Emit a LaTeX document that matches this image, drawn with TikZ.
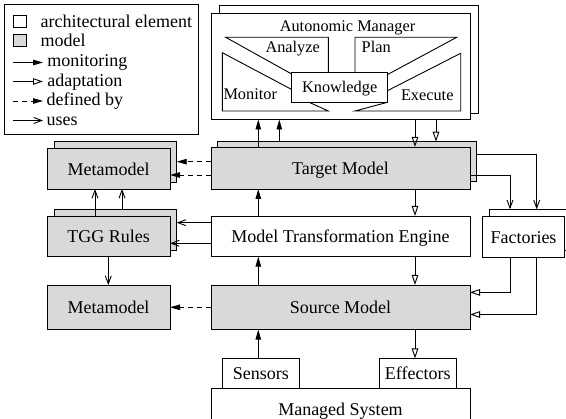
\documentclass[tikz,border=0pt]{standalone}
\usepackage{fontspec}
\setmainfont{Liberation Serif}
\usetikzlibrary{arrows.meta}
\definecolor{modelfill}{RGB}{217,217,217}
\begin{document}
\begin{tikzpicture}[x=1pt,y=-1pt,
  line width=0.9pt,
  every node/.style={inner sep=0pt, outer sep=0pt},
  bigfont/.style={font=\fontsize{18}{20}\selectfont},
  amfont/.style={font=\fontsize{16.3}{18}\selectfont},
  elem/.style={draw, fill=white, rectangle, anchor=north west, bigfont,
    text height=13pt, text depth=0pt},
  modelbox/.style={elem, fill=modelfill},
  sz/.style 2 args={minimum width=#1, minimum height=#2},
  mon/.style={-{Triangle[length=10pt,width=5.5pt]}},
  adapt/.style={-{Triangle[open,length=10pt,width=6.5pt]}},
  uses/.style={-{Straight Barb[length=8pt,width=6pt]}},
  defby/.style={mon, dash pattern=on 5pt off 4pt},
]
\useasboundingbox (0,0) rectangle (566,419);
\clip (0,0) rectangle (566,419);

% ---------------- legend ----------------
\node[draw, anchor=north west, sz={194pt}{130pt}] (legend) at (4,4) {};
\node[draw, fill=white, anchor=north west, sz={13.4pt}{12.3pt}] (keyelem) at (13.3,15) {};
\node[draw, fill=modelfill, anchor=north west, sz={13.4pt}{12pt}] (keymodel) at (13.3,34.7) {};
\node[bigfont, anchor=base west] (keyelemtxt) at (40.7,27.5) {architectural element};
\node[bigfont, anchor=base west] (keymodeltxt) at (40.7,47) {model};
\node[bigfont, anchor=base west] (keymontxt) at (47.3,66.7) {monitoring};
\node[bigfont, anchor=base west] (keyadapttxt) at (47.3,86.3) {adaptation};
\node[bigfont, anchor=base west] (keydeftxt) at (46.7,106) {defined by};
\node[bigfont, anchor=base west] (keyusestxt) at (46.7,126) {uses};
\coordinate (kmA) at (13.3,62.5);  \coordinate (kmB) at (43,62.5);
\coordinate (kaA) at (13.3,81.5);  \coordinate (kaB) at (43,81.5);
\coordinate (kdA) at (13.3,101);   \coordinate (kdB) at (43,101);
\coordinate (kuA) at (13.3,120.5); \coordinate (kuB) at (43,120.5);
\draw[mon] (kmA) -- (kmB);
\draw[adapt] (kaA) -- (kaB);
\draw[defby] (kdA) -- (kdB);
\draw[uses] (kuA) -- (kuB);

% ---------------- autonomic manager ----------------
\node[elem, sz={259pt}{108pt}] (amb) at (219,5) {};
\node[elem, sz={259pt}{106.5pt}] (am) at (211,13) {};
\node[amfont, anchor=base] (amtitle) at (347.5,32) {Autonomic Manager};
% MAPE segments around the knowledge box
\draw[fill=white] (225.7,37.3) -- (328.3,37.3) -- (328.3,77) -- (297,77) -- cycle;
\draw[fill=white] (355,37.3) -- (456.7,37.3) -- (383,77) -- (355,77) -- cycle;
\draw[fill=white] (222.3,52.7) -- (300,93.9) -- (310,102.7) -- (328.3,111)
  -- (222.3,111) -- cycle;
\draw[fill=white] (460.7,53.3) -- (380,94.5) -- (386,102.7) -- (355,111)
  -- (460.7,111) -- cycle;
\node[draw, fill=white, anchor=north west, sz={96pt}{30pt}, amfont,
  text height=10pt, text depth=0pt] (know) at (291.7,72.7) {Knowledge};
\node[amfont, anchor=base west] (analyze) at (265.5,53) {Analyze};
\node[amfont, anchor=base west] (plan) at (361.7,53) {Plan};
\node[amfont, anchor=base west] (monitor) at (223.5,100) {Monitor};
\node[amfont, anchor=base west] (execute) at (401,100.5) {Execute};

% ---------------- central column ----------------
\node[modelbox, sz={259.7pt}{40pt}] (tmb) at (217,141.7) {};
\node[modelbox, sz={259pt}{42pt}] (tm) at (211,147) {Target Model};
\node[elem, sz={259pt}{40.7pt}] (mte) at (211,216) {Model Transformation Engine};
\node[modelbox, sz={259pt}{44.6pt}] (src) at (211,285) {Source Model};
\node[elem, sz={76.6pt}{29.7pt}] (sens) at (222.6,358.5) {Sensors};
\node[elem, sz={76.5pt}{29.7pt}] (eff) at (379.5,358.5) {Effectors};
\node[elem, sz={259pt}{42pt}] (ms) at (211,388.2) {Managed System};

% ---------------- left column ----------------
\node[modelbox, sz={122.7pt}{40.6pt}] (mmb) at (54,141.7) {};
\node[modelbox, sz={122.7pt}{40.7pt}] (mm) at (47.3,148.3) {Metamodel};
\node[modelbox, sz={122.7pt}{40.7pt}] (tggb) at (54,209.3) {};
\node[modelbox, sz={122.7pt}{40.7pt}] (tgg) at (47.3,216) {TGG Rules};
\node[modelbox, sz={123pt}{44.6pt}] (mm2) at (47,285) {Metamodel};

% ---------------- factories ----------------
\node[elem, sz={83pt}{41pt}] (facb) at (489.3,209.3) {};
\node[elem, sz={81.6pt}{41.3pt}] (fac) at (482.7,216) {Factories};

% ---------------- lanes and rows of the connectors ----------------
\coordinate (laneA) at (258.3,0);
\coordinate (laneB) at (279.3,0);
\coordinate (laneC) at (415,0);
\coordinate (laneD) at (436,0);
\coordinate (laneE) at (510,0);
\coordinate (laneF) at (536.7,0);
\coordinate (laneG) at (95,0);
\coordinate (laneH) at (122,0);
\coordinate (laneI) at (108.3,0);
\coordinate (rowA) at (0,161.7);
\coordinate (rowB) at (0,175);
\coordinate (rowC) at (0,154.3);
\coordinate (rowD) at (0,222.7);
\coordinate (rowE) at (0,243.3);
\coordinate (rowF) at (0,292.4);
\coordinate (rowG) at (0,314.5);

% monitoring
\draw[mon] (tm.north -| laneA) -- (am.south -| laneA);
\draw[mon] (tmb.north -| laneB) -- (am.south -| laneB);
\draw[mon] (mte.north -| laneA) -- (tm.south -| laneA);
\draw[mon] (src.north -| laneA) -- (mte.south -| laneA);
\draw[mon] (sens.north -| laneA) -- (src.south -| laneA);

% adaptation
\draw[adapt] (am.south -| laneC) -- (tm.north -| laneC);
\draw[adapt] (am.south -| laneD) -- (tmb.north -| laneD);
\draw[adapt] (tm.south -| laneC) -- (mte.north -| laneC);
\draw[adapt] (mte.south -| laneC) -- (src.north -| laneC);
\draw[adapt] (src.south -| laneC) -- (eff.north -| laneC);
\draw[adapt] (fac.south -| laneE) |- (src.east |- rowF);
\draw[adapt] (fac.south -| laneF) |- (src.east |- rowG);

% defined by
\draw[defby] (tm.west |- rowA) -- (mmb.east |- rowA);
\draw[defby] (tm.west |- rowB) -- (mm.east |- rowB);
\draw[defby] (src.west) -- (mm2.east);

% uses
\draw[uses] (mte.west |- rowD) -- (tggb.east |- rowD);
\draw[uses] (mte.west |- rowE) -- (tgg.east |- rowE);
\draw[uses] (tgg.north -| laneG) -- (mm.south -| laneG);
\draw[uses] (tggb.north -| laneH) -- (mm.south -| laneH);
\draw[uses] (tgg.south -| laneI) -- (mm2.north -| laneI);
\draw[uses] (tm.east |- rowB) -| (facb.north -| laneE);
\draw[uses] (tmb.east |- rowC) -| (facb.north -| laneF);
\end{tikzpicture}
\end{document}
